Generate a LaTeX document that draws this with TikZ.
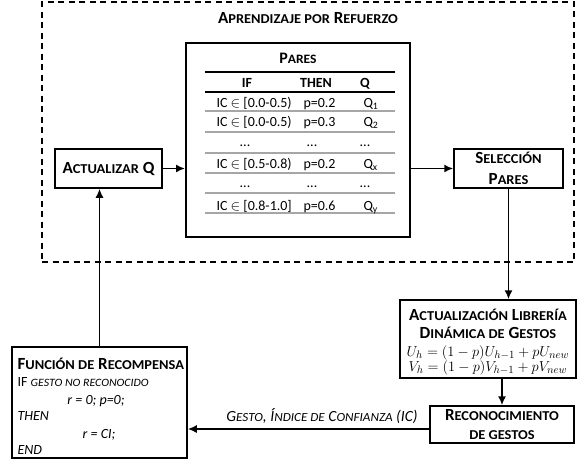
\documentclass[tikz,border=0pt]{standalone}
\usepackage{fontspec}
\setmainfont{Carlito}
\newfontfamily\lowfont[Scale=0.8,FakeStretch=1.06]{Carlito}
\newcommand{\lc}[1]{{\lowfont #1}}
\usetikzlibrary{arrows.meta,positioning,calc}

\begin{document}
\begin{tikzpicture}[x=1pt,y=-1pt,>={Latex[length=9pt,width=8pt]},
  box/.style={draw,line width=1.5pt,inner sep=0pt,align=center},
  lbl/.style={font=\fontsize{17}{21}\selectfont\bfseries},
  txt/.style={font=\fontsize{14}{16}\selectfont,anchor=base west},
  conn/.style={line width=1.6pt}]
\useasboundingbox (0,0) rectangle (580,461);

\node[draw,line width=1.4pt,dash pattern=on 6pt off 4.5pt,minimum width=532pt,minimum height=260pt] (rl) at (308,132) {};
\node[lbl] (rltitle) at (308,18) {A\lc{PRENDIZAJE POR} R\lc{EFUERZO}};

\node[box,line width=2pt,minimum width=224pt,minimum height=194pt] (pares) at (298,140) {};
\node[font=\fontsize{16}{18}\selectfont\bfseries] (parestitle) at (298,58) {P\lc{ARES}};
\draw[line width=1.1pt] (205,72) -- (395,72);
\draw[line width=1.8pt] (205,92) -- (395,92);
\foreach \y in {111,132,153,173,193,213}{
  \draw[gray!70,line width=1.1pt] (205,\y) -- (395,\y);
}
\foreach \x/\t in {247/IF,316/THEN,365/Q}{
  \node[font=\fontsize{14}{16}\selectfont\bfseries,anchor=base] (hd\t) at (\x,87) {\t};
}
\foreach \y/\a/\b/\q in {107/{[0.0-0.5)}/0.2/1,126/{[0.0-0.5)}/0.3/2,168/{[0.5-0.8)}/0.2/x,210/{[0.8-1.0]}/0.6/y}{
  \node[txt] (if\q) at (213,\y) {IC $\in$ \a};
  \node[txt] (then\q) at (300,\y) {p=\b};
  \node[txt] (q\q) at (360,\y) {Q\textsubscript{\q}};
}
\foreach \y/\n in {146/a,187/b}{
  \foreach \x/\c in {245/1,312/2,365/3}{
    \node[font=\fontsize{14}{16}\selectfont,anchor=base] (dots\n\c) at (\x,\y) {...};
  }
}

\node[box,lbl,minimum width=107pt,minimum height=39pt] (actq) at (108.5,168.5) {A\lc{CTUALIZAR} Q};
\node[box,lbl,minimum width=109pt,minimum height=39pt] (sel) at (508.5,168.5) {S\lc{ELECCIÓN}\\P\lc{ARES}};

\node[box,minimum width=176pt,minimum height=78pt] (lib) at (488,339) {};
\node[lbl,anchor=base] (libt1) at (488,320.5) {A\lc{CTUALIZACIÓN} L\lc{IBRERÍA}};
\node[lbl,anchor=base] (libt2) at (488,338.5) {D\lc{INÁMICA DE} G\lc{ESTOS}};
\node[font=\fontsize{15.5}{17}\selectfont,anchor=base] (equ) at (488,356) {$U_h = (1-p)U_{h-1} + pU_{new}$};
\node[font=\fontsize{15.5}{17}\selectfont,anchor=base] (eqv) at (488,371) {$V_h = (1-p)V_{h-1} + pV_{new}$};

\node[box,font=\fontsize{17}{18.5}\selectfont\bfseries,minimum width=144pt,minimum height=37pt] (reco) at (502,424.5) {R\lc{ECONOCIMIENTO}\\\lc{DE GESTOS}};

\node[box,minimum width=175pt,minimum height=111pt] (fun) at (99.5,402.5) {};
\node[lbl,anchor=base west] (funt) at (14,369) {F\lc{UNCIÓN DE} R\lc{ECOMPENSA}};
\node[txt] (funif) at (14,386) {IF \textit{\lc{GESTO NO RECONOCIDO}}};
\node[txt,anchor=base,font=\fontsize{14}{16}\selectfont\itshape] (funr) at (96,404) {r = 0; p=0;};
\node[txt,font=\fontsize{14}{16}\selectfont\itshape] (funthen) at (14,420) {THEN};
\node[txt,anchor=base,font=\fontsize{14}{16}\selectfont\itshape] (funci) at (99,438) {r = CI;};
\node[txt,font=\fontsize{14}{16}\selectfont\itshape] (funend) at (14,454) {END};

\draw[conn,->] (actq.east) -- (actq.east -| pares.west);
\draw[conn,->] (sel.west -| pares.east) -- (sel.west);
\draw[conn,->] (sel.south) -- (sel.south |- lib.north);
\draw[conn,->] (lib.south -| reco.north) -- (reco.north);
\draw[conn,->] ([yshift=-4.5pt]reco.west) -- ([yshift=-4.5pt]reco.west -| fun.east);
\node[font=\fontsize{15.5}{17}\selectfont\itshape,anchor=base] (gesto) at (322,421) {G\lc{ESTO}, Í\lc{NDICE DE} C\lc{ONFIANZA} (IC)};
\draw[conn,->] (fun.north) -- (fun.north |- actq.south);
\end{tikzpicture}
\end{document}
